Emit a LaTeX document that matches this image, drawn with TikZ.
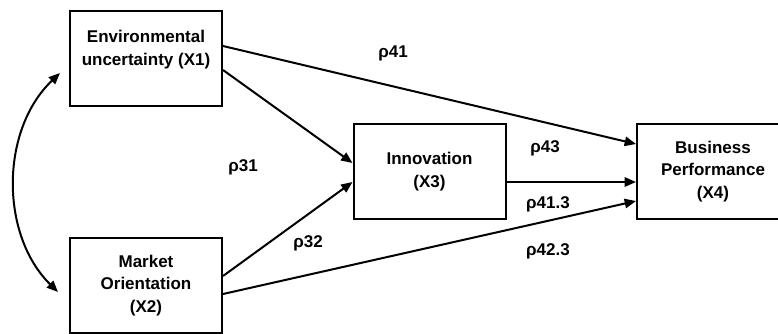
\documentclass[tikz,border=0pt]{standalone}
\usepackage{fontspec}
\setmainfont{Liberation Sans}
\usetikzlibrary{arrows.meta, calc}

\begin{document}
\begin{tikzpicture}[x = 0.75pt, y = -0.75pt,
    font = \fontsize{12.75}{16.8}\selectfont\bfseries,
    var/.style = {shape = rectangle, draw, line width = 1.5pt, align = center,
        minimum width = 114pt, minimum height = 71.25pt, inner sep = 0pt},
    link/.style = {line width = 1.5pt, -{Triangle[length = 8.5pt, width = 7pt]}},
    coef/.style = {inner sep = 0pt}]
    \useasboundingbox (0, 0) rectangle (778, 333);
    % variables
    \node[var] (x1) at (146, 58.5) {Environmental\\uncertainty (X1)\\[-1pt]\mbox{}};
    \node[var] (x2) at (146, 285.5) {Market\\Orientation\\(X2)};
    \node[var] (x3) at (429.5, 171.5) {Innovation\\(X3)};
    \node[var] (x4) at (713, 171.5) {Business\\Performance\\(X4)};
    % path coefficients
    \node[coef] (p41) at (393, 53) {ρ41};
    \node[coef] (p31) at (243, 167) {ρ31};
    \node[coef] (p32) at (308, 243) {ρ32};
    \node[coef] (p43) at (545, 148) {ρ43};
    \node[coef] (p413) at (548, 204) {ρ41.3};
    \node[coef] (p423) at (548, 251) {ρ42.3};
    % paths
    \draw[link] ($(x1.east) + (0, -12.5)$) -- ($(x4.west) + (0, -27.5)$);
    \draw[link] ($(x1.east) + (0, 11.5)$) -- ($(x3.west) + (0, -8.5)$);
    \draw[link] ($(x2.east) + (0, -9.5)$) -- ($(x3.west) + (0, 10.5)$);
    \draw[link] ($(x2.east) + (0, 8.5)$) -- ($(x4.west) + (0, 29.5)$);
    \draw[link] ($(x3.east) + (0, 10.5)$) -- ($(x4.west) + (0, 10.5)$);
    % correlation
    \coordinate (cov1) at (60, 73);
    \coordinate (cov2) at (58, 292);
    \draw[line width = 1.5pt, {Triangle[length = 8.5pt, width = 7pt]}-{Triangle[length = 8.5pt, width = 7pt]}]
        (cov1) .. controls (0, 130) and (0, 235) .. (cov2);
\end{tikzpicture}
\end{document}
